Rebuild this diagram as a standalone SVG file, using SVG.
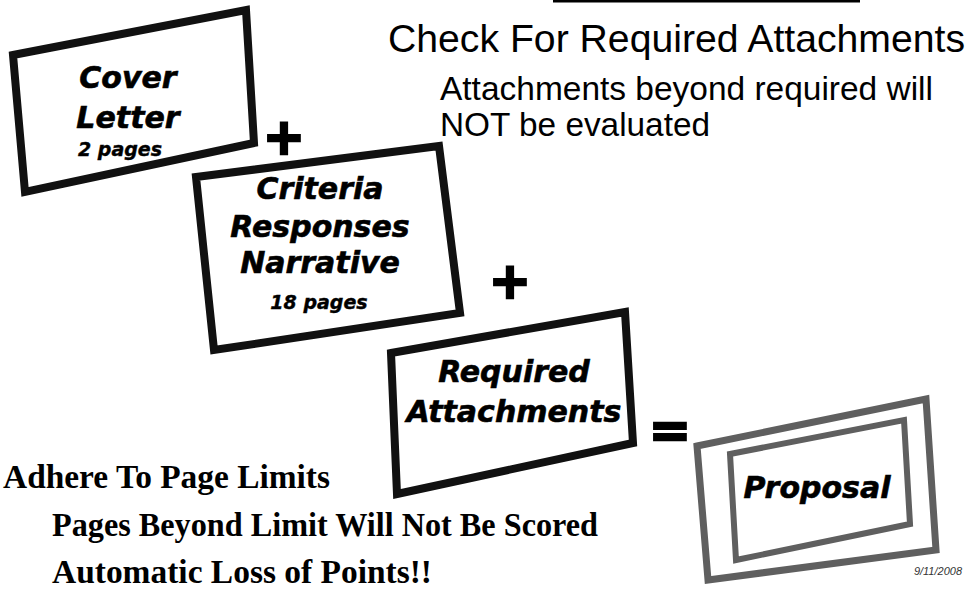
<svg xmlns="http://www.w3.org/2000/svg" width="974" height="591" viewBox="0 0 974 591">
  <style>
    .box { fill: #ffffff; stroke: #111111; stroke-width: 8; stroke-linejoin: miter; }
    .gbox { fill: #ffffff; stroke: #5f5f5f; stroke-linejoin: miter; }
    .lbl { font-family: "DejaVu Sans", Verdana, sans-serif; font-weight: bold; font-style: italic; fill: #000; text-anchor: middle; stroke: #000; stroke-width: 0.6; }
    .big { font-size: 30px; }
    .small { font-size: 19px; stroke-width: 0.4; }
    .op { font-family: "DejaVu Sans", Arial, sans-serif; font-weight: bold; font-size: 50px; fill: #000; stroke: #000; stroke-width: 2.5; text-anchor: middle; }
    .title { font-family: "Liberation Sans", Arial, sans-serif; fill: #000; }
    .serif { font-family: "Liberation Serif", "Times New Roman", serif; font-weight: bold; font-size: 33px; fill: #000; }
  </style>
  <rect width="974" height="591" fill="#ffffff"/>
  <line x1="553" y1="1.2" x2="860" y2="1.2" stroke="#000" stroke-width="2.5"/>

  <g id="title">
    <text class="title" x="388" y="52" font-size="39" textLength="577" lengthAdjust="spacingAndGlyphs">Check For Required Attachments</text>
    <text class="title" x="440" y="100" font-size="33" textLength="493" lengthAdjust="spacingAndGlyphs">Attachments beyond required will</text>
    <text class="title" x="440" y="136" font-size="33" textLength="270" lengthAdjust="spacingAndGlyphs">NOT be evaluated</text>
  </g>

  <g id="cover-letter">
    <polygon class="box" points="13,55 246,10 254,143 25,192"/>
    <text class="lbl big" x="128" y="88">Cover</text>
    <text class="lbl big" x="128" y="128">Letter</text>
    <text class="lbl small" x="120" y="156">2 pages</text>
  </g>

  <g id="criteria-responses">
    <polygon class="box" points="196,177 439,146 460,313 214,350"/>
    <text class="lbl big" x="320" y="199">Criteria</text>
    <text class="lbl big" x="320" y="237">Responses</text>
    <text class="lbl big" x="320" y="273">Narrative</text>
    <text class="lbl small" x="319" y="309">18 pages</text>
  </g>

  <g id="required-attachments">
    <polygon class="box" points="391,353 625,312 633,443 397,494"/>
    <text class="lbl big" x="514" y="382">Required</text>
    <text class="lbl big" x="514" y="422">Attachments</text>
  </g>

  <g id="proposal">
    <polygon class="gbox" stroke-width="7" points="697,446 926,399 936,550 708,580"/>
    <polygon class="gbox" stroke-width="6" points="730,454 904,420 910,524 736,560"/>
    <text class="lbl big" x="817" y="498">Proposal</text>
  </g>

  <g id="connectors">
    <text class="op" x="284" y="154">+</text>
    <text class="op" x="510" y="298">+</text>
    <text class="op" x="670" y="447">=</text>
  </g>

  <g id="notes">
    <text class="serif" x="3" y="488" textLength="327" lengthAdjust="spacingAndGlyphs">Adhere To Page Limits</text>
    <text class="serif" x="52" y="536" textLength="546" lengthAdjust="spacingAndGlyphs">Pages Beyond Limit Will Not Be Scored</text>
    <text class="serif" x="52" y="583" textLength="380" lengthAdjust="spacingAndGlyphs">Automatic Loss of Points!!</text>
    <text x="962" y="575" font-family="Liberation Sans, Arial, sans-serif" font-style="italic" font-size="11" fill="#333" text-anchor="end">9/11/2008</text>
  </g>
</svg>
